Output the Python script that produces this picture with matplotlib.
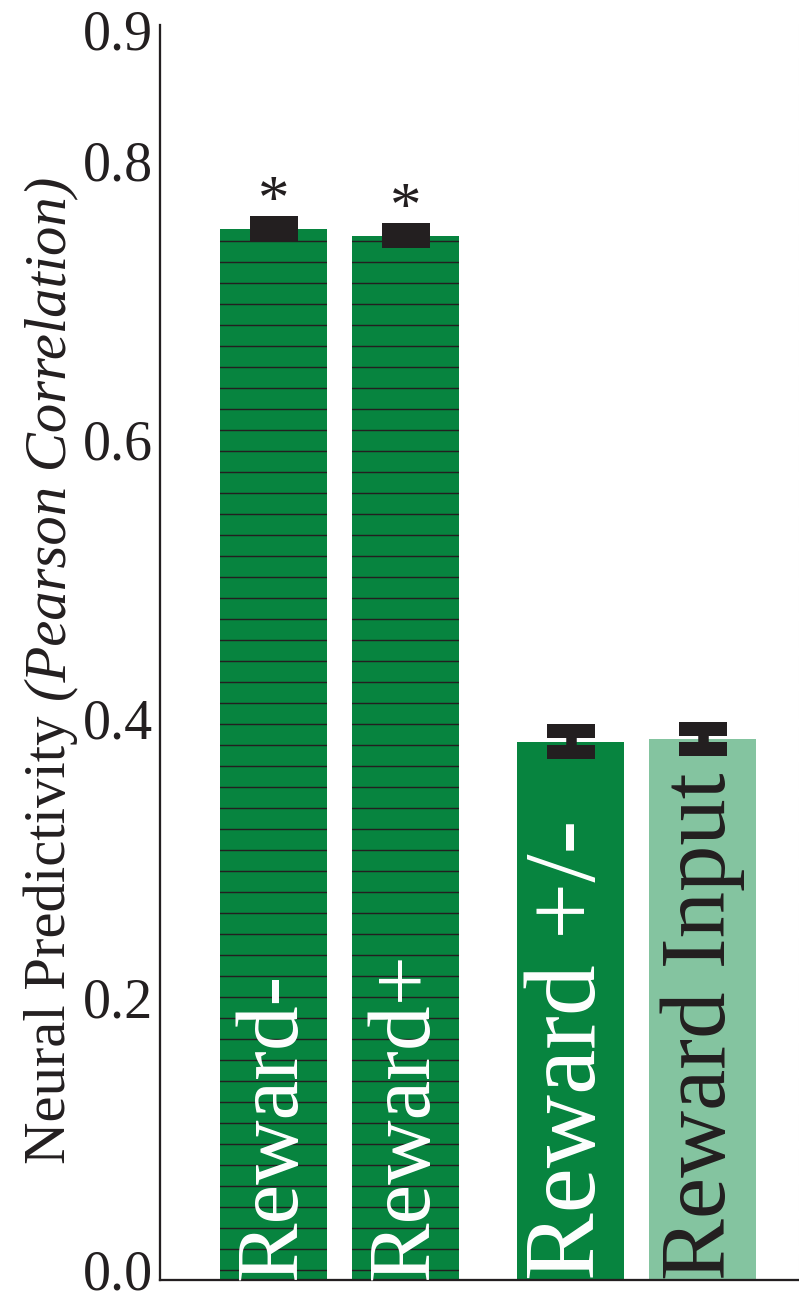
import matplotlib
matplotlib.use("Agg")
import matplotlib.pyplot as plt
import matplotlib.transforms as mtransforms
import numpy as np

# ---- data -------------------------------------------------------------
categories = ["Reward-", "Reward+", "Reward +/-", "Reward Input"]
values = [0.754, 0.749, 0.386, 0.388]
errors = [0.004, 0.004, 0.0074, 0.0072]
significant = [True, True, False, False]
hatched = [True, True, False, False]
group_index = [0, 0, 1, 1]
yticks = [0.0, 0.2, 0.4, 0.6, 0.8, 0.9]
ytick_labels = ["0.0", "0.2", "0.4", "0.6", "0.8", "0.9"]
ylabel_main = "Neural Predictivity "
ylabel_italic = "(Pearson Correlation)"

# ---- style ------------------------------------------------------------
INK = "#231f20"
DARK_GREEN = "#07843f"
LIGHT_GREEN = "#84c4a0"
bar_colors = [DARK_GREEN, DARK_GREEN, DARK_GREEN, LIGHT_GREEN]
label_colors = ["white", "white", "white", INK]
label_sizes = [51, 51, 58, 53]
# vertical nudge (pixels, upward) for each y tick label
tick_label_nudge = [10, 4, 4, 4, 4, -5]

plt.rcParams["font.family"] = ["Liberation Serif", "DejaVu Serif"]
plt.rcParams["hatch.linewidth"] = 0.8

DPI = 126
W, H = 799, 1300
fig = plt.figure(figsize=(W / DPI, H / DPI), dpi=DPI)
ax = fig.add_axes([160 / W, 20 / H, (W - 0.5 - 160) / W, (1280 - 25) / H])

group_gap = 0.25
positions = np.arange(len(categories)) + np.array(group_index) * group_gap
bar_width = 0.81

for x, v, col, h in zip(positions, values, bar_colors, hatched):
    ax.bar(x, v, width=bar_width, color=col, edgecolor=INK, linewidth=0,
           hatch="-" if h else None, zorder=2)

ax.errorbar(positions, values, yerr=errors, fmt="none", ecolor=INK,
            elinewidth=6, capsize=13.7, capthick=8, zorder=3)

for x, v, e, sig in zip(positions, values, errors, significant):
    if sig:
        ax.annotate("*", xy=(x, v + e), xytext=(0, 2.5),
                    textcoords="offset points", ha="center", va="baseline",
                    fontsize=36, color=INK, zorder=4)

for x, name, c, fs in zip(positions, categories, label_colors, label_sizes):
    ax.text(x, 0, name, rotation=90, ha="center", va="bottom",
            fontsize=fs, color=c, zorder=4)

ax.set_xlim(-0.8636, -0.8636 + 639 / 132)
ax.set_ylim(0, 0.9)
ax.set_xticks([])
ax.set_yticks(yticks, ytick_labels)
ax.tick_params(axis="y", length=0, pad=4, labelsize=32, labelcolor=INK)
for lab, dy in zip(ax.get_yticklabels(), tick_label_nudge):
    lab.set_transform(lab.get_transform() +
                      mtransforms.ScaledTranslation(0, dy / DPI,
                                                    fig.dpi_scale_trans))

ax.spines["top"].set_visible(False)
for side in ("left", "bottom"):
    ax.spines[side].set_color(INK)
    ax.spines[side].set_linewidth(1.3)
ax.spines["right"].set_color("#dcdcdc")
ax.spines["right"].set_linewidth(0.6)
ax.spines["right"].set_linestyle((0, (24, 9.5)))

# y-axis label with an italic tail, laid out along the rotated baseline
renderer = fig.canvas.get_renderer()
label_kw = dict(rotation=90, rotation_mode="anchor", ha="left",
                va="baseline", fontsize=33.5, color=INK,
                transform=fig.transFigure)
t1 = fig.text(0, 0, ylabel_main, **label_kw)
t2 = fig.text(0, 0, ylabel_italic, style="italic", **label_kw)
len1 = t1.get_window_extent(renderer).height
len2 = t2.get_window_extent(renderer).height
centre_px = H - 670
start_px = centre_px - (len1 + len2) / 2
base_x = 65 / W
t1.set_position((base_x, start_px / H))
t2.set_position((base_x, (start_px + len1) / H))

fig.savefig("out.png", dpi=DPI)
